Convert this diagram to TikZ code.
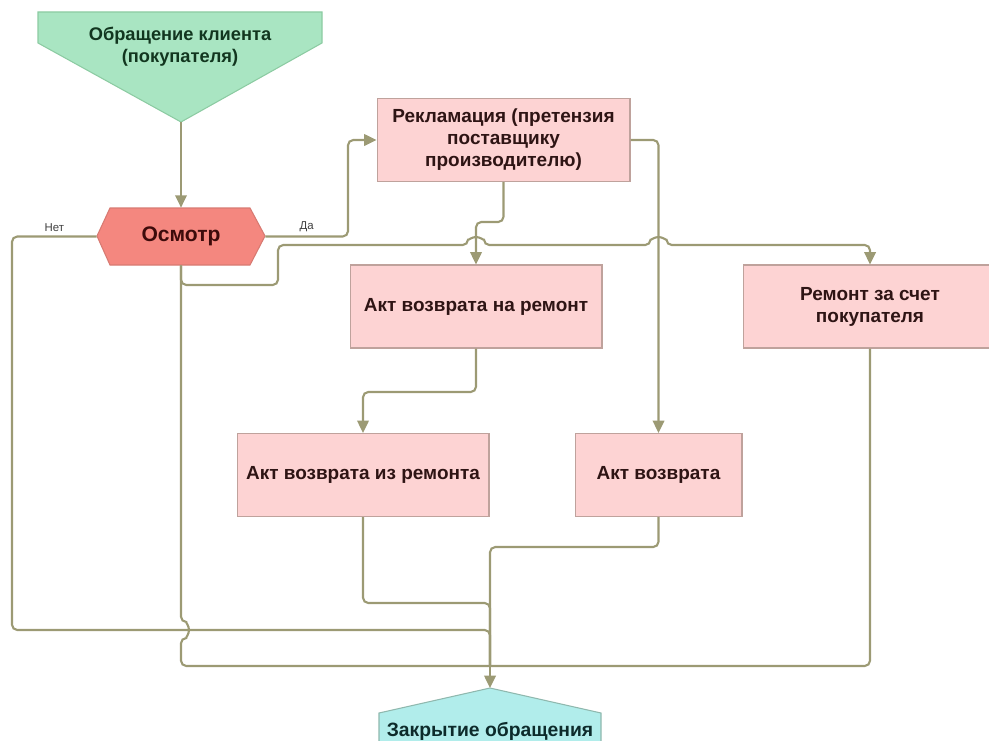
\documentclass[tikz,border=0pt]{standalone}
\usepackage{fontspec}
\setmainfont{Liberation Sans}
\usepackage{tikz}
\usetikzlibrary{calc,arrows.meta}
\usetikzlibrary{positioning}

\definecolor{startfill}{HTML}{A9E5C2}
\definecolor{startline}{HTML}{8CCBA2}
\definecolor{starttext}{HTML}{12361F}
\definecolor{hexfill}{HTML}{F4877F}
\definecolor{hexline}{HTML}{D77A72}
\definecolor{hextext}{HTML}{3D0B0B}
\definecolor{boxfill}{HTML}{FDD3D3}
\definecolor{boxline}{HTML}{BFA29C}
\definecolor{boxtext}{HTML}{2E1414}
\definecolor{closefill}{HTML}{B1EDEB}
\definecolor{closeline}{HTML}{8FB8AE}
\definecolor{closetext}{HTML}{0D2B2B}
\definecolor{lineol}{HTML}{9C9A74}

\begin{document}
\begin{tikzpicture}[x=0.02cm,y=-0.02cm,
	box/.style={draw=boxline,fill=boxfill,line width=0.6pt,minimum height=1.66cm,align=center,
		text=boxtext,font=\bfseries\fontsize{10.8}{12.5}\selectfont},
	conn/.style={draw=lineol,line width=1.2pt,rounded corners=3pt},
	arr/.style={conn,-{Triangle[length=7pt,width=6.5pt]}},
	lbl/.style={font=\fontsize{6.5}{7}\selectfont,text=black!75}]
	
	\useasboundingbox (0,0) rectangle (989,740);
	\clip (0,0) rectangle (989,740);
	
	\filldraw[fill=startfill,draw=startline,line width=0.6pt] (38,12) -- (322,12) -- (322,43) -- (181,122) -- (38,43) -- cycle;
	\filldraw[fill=hexfill,draw=hexline,line width=0.6pt] (97,236) -- (110,208) -- (250,208) -- (265,236) -- (250,265) -- (110,265) -- cycle;
	\filldraw[fill=closefill,draw=closeline,line width=0.6pt] (379,760) -- (379,713) -- (490,688) -- (601,713) -- (601,760) -- cycle;
	
	\node[align=center,text=starttext,font=\bfseries\fontsize{10.4}{12.5}\selectfont] (start) at (180,47) {Обращение клиента\\(покупателя)};
	\coordinate (starttip) at (181,122);
	\node[minimum width=3.36cm,minimum height=1.14cm,text=hextext,font=\bfseries\fontsize{12}{14}\selectfont] (osmotr) at (181,236.5) {Осмотр};
	
	\node[box,minimum width=5.06cm] (rek) at (503.5,140) {Рекламация (претензия\\поставщику\\производителю)};
	\node[box,minimum width=5.04cm] (aktrem) at (476,306.5) {Акт возврата на ремонт};
	\node[box,minimum width=5.08cm] (remont) at (870,306.5) {Ремонт за счет\\покупателя};
	\node[box,minimum width=5.04cm] (aktiz) at (363,475) {Акт возврата из ремонта};
	\node[box,minimum width=3.34cm] (akt) at (658.5,475) {Акт возврата};
	
	\node[text=closetext,font=\bfseries\fontsize{11}{12}\selectfont] (close) at (490,731) {Закрытие обращения};
	\coordinate (closetip) at (490,688);
	\coordinate (merge) at (490,666);
	
	\draw[arr] (starttip) -- (osmotr.north);
	\draw[conn] (osmotr.west) -- node[lbl,pos=0.5,above=-1pt]{Нет} (12,236.5) -- (12,630) -- (490,630) -- (merge);
	\draw[arr] (osmotr.east) -- node[lbl,pos=0.5,above=-1pt]{Да} (348,236.5) |- (rek.west);
	\draw[arr] (osmotr.south) -- (181,285) -- (278,285) -- (278,245) -- (468,245)
		arc[start angle=180,end angle=0,radius=0.16cm] -- (650.5,245)
		arc[start angle=180,end angle=0,radius=0.16cm] -- (870,245) -- (remont.north);
	\draw[conn] (osmotr.south) -- (181,622) arc[start angle=90,end angle=-90,radius=0.16cm] -- (181,666) -- (merge);
	\draw[arr] (rek.south) -- (503.5,222) -| (aktrem.north);
	\draw[arr] (rek.east) -| (akt.north);
	\draw[arr] (aktrem.south) -- (476,392) -| (aktiz.north);
	\draw[conn] (aktiz.south) -- (363,603) -- (490,603) -- (merge);
	\draw[conn] (akt.south) -- (658.5,547) -- (490,547) -- (merge);
	\draw[conn] (remont.south) -- (870,666) -- (merge);
	\draw[arr] (merge) -- (closetip);
	
\end{tikzpicture}
\end{document}
